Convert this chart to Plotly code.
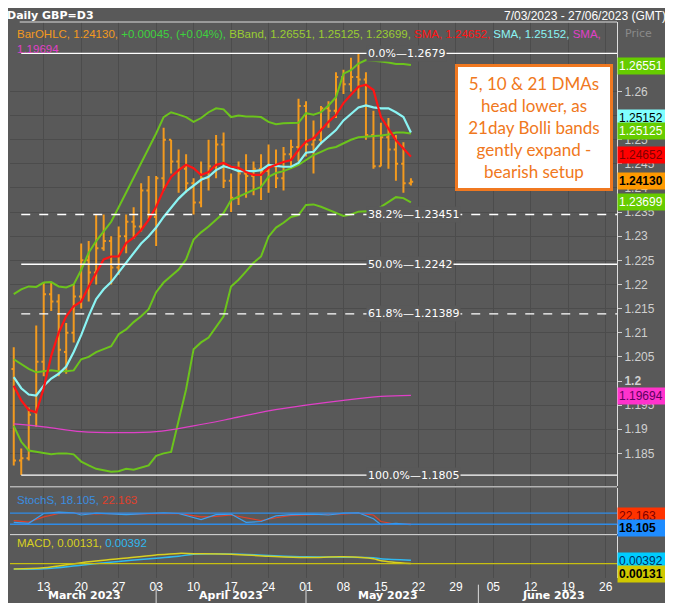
import plotly.graph_objects as go

dates = ["2023-03-07","2023-03-08","2023-03-09","2023-03-10",
 "2023-03-13","2023-03-14","2023-03-15","2023-03-16","2023-03-17",
 "2023-03-20","2023-03-21","2023-03-22","2023-03-23","2023-03-24",
 "2023-03-27","2023-03-28","2023-03-29","2023-03-30","2023-03-31",
 "2023-04-03","2023-04-04","2023-04-05","2023-04-06","2023-04-07",
 "2023-04-10","2023-04-11","2023-04-12","2023-04-13","2023-04-14",
 "2023-04-17","2023-04-18","2023-04-19","2023-04-20","2023-04-21",
 "2023-04-24","2023-04-25","2023-04-26","2023-04-27","2023-04-28",
 "2023-05-01","2023-05-02","2023-05-03","2023-05-04","2023-05-05",
 "2023-05-08","2023-05-09","2023-05-10","2023-05-11","2023-05-12",
 "2023-05-15","2023-05-16","2023-05-17","2023-05-18","2023-05-19"]

open_ = [1.2025,1.1835,1.1840,1.1935,1.2040,1.2180,1.2165,1.2060,1.2100,
 1.2175,1.2250,1.2225,1.2275,1.2290,1.2235,1.2300,1.2330,1.2320,1.2395,
 1.2340,1.2420,1.2500,1.2455,1.2440,1.2410,1.2370,1.2420,1.2445,1.2490,
 1.2415,1.2380,1.2430,1.2425,1.2440,1.2435,1.2445,1.2420,1.2470,1.2485,
 1.2570,1.2490,1.2500,1.2565,1.2560,1.2630,1.2615,1.2630,1.2625,1.2510,
 1.2445,1.2505,1.2480,1.2450,1.2410]
high = [1.2070,1.1860,1.1945,1.2115,1.2205,1.2205,1.2180,1.2120,1.2200,
 1.2285,1.2290,1.2345,1.2345,1.2300,1.2320,1.2345,1.2360,1.2410,1.2425,
 1.2425,1.2525,1.2500,1.2480,1.2470,1.2420,1.2455,1.2500,1.2510,1.2515,
 1.2430,1.2455,1.2470,1.2455,1.2470,1.2490,1.2480,1.2485,1.2500,1.2585,
 1.2580,1.2540,1.2570,1.2580,1.2640,1.2645,1.2670,1.2679,1.2640,1.2560,
 1.2535,1.2545,1.2510,1.2495,1.2420]
low = [1.1825,1.1805,1.1835,1.1905,1.2010,1.2145,1.2010,1.2015,1.2080,
 1.2150,1.2165,1.2200,1.2270,1.2200,1.2220,1.2265,1.2295,1.2310,1.2335,
 1.2280,1.2395,1.2430,1.2390,1.2390,1.2345,1.2360,1.2395,1.2420,1.2400,
 1.2350,1.2365,1.2380,1.2385,1.2375,1.2390,1.2400,1.2395,1.2440,1.2455,
 1.2465,1.2430,1.2490,1.2525,1.2545,1.2595,1.2600,1.2585,1.2500,1.2440,
 1.2445,1.2440,1.2415,1.2390,1.2405]
close = [1.1835,1.1840,1.1930,1.2040,1.2180,1.2165,1.2065,1.2100,1.2175,
 1.2250,1.2225,1.2275,1.2290,1.2235,1.2300,1.2330,1.2320,1.2395,1.2340,
 1.2420,1.2500,1.2455,1.2440,1.2410,1.2370,1.2420,1.2445,1.2490,1.2415,
 1.2380,1.2430,1.2425,1.2440,1.2435,1.2445,1.2420,1.2470,1.2485,1.2570,
 1.2490,1.2500,1.2565,1.2560,1.2630,1.2615,1.2630,1.2625,1.2510,1.2445,
 1.2505,1.2480,1.2450,1.2410,1.2413]

sma5 = [1.1990,1.1960,1.1940,1.1935,1.1985,1.2052,1.2100,1.2134,1.2155,
 1.2165,1.2196,1.2225,1.2252,1.2258,1.2258,1.2286,1.2297,1.2313,1.2334,
 1.2361,1.2396,1.2423,1.2437,1.2448,1.2441,1.2427,1.2433,1.2448,1.2452,
 1.2444,1.2442,1.2433,1.2427,1.2427,1.2442,1.2448,1.2454,1.2458,1.2479,
 1.2496,1.2503,1.2520,1.2537,1.2551,1.2576,1.2593,1.2610,1.2614,1.2603,
 1.2547,1.2524,1.2499,1.2482,1.2465]
sma10 = [1.2008,1.1985,1.1972,1.1970,1.1990,1.2005,1.2015,1.2030,1.2060,
 1.2095,1.2135,1.2170,1.2190,1.2205,1.2225,1.2245,1.2265,1.2285,1.2300,
 1.2318,1.2340,1.2360,1.2378,1.2393,1.2405,1.2417,1.2423,1.2437,1.2445,
 1.2441,1.2435,1.2435,1.2435,1.2437,1.2448,1.2446,1.2444,1.2444,1.2452,
 1.2473,1.2475,1.2493,1.2506,1.2520,1.2540,1.2554,1.2567,1.2571,1.2567,
 1.2565,1.2565,1.2557,1.2547,1.2515]
bb_upper = [1.2180,1.2190,1.2196,1.2195,1.2204,1.2205,1.2196,1.2194,1.2200,
 1.2230,1.2266,1.2290,1.2310,1.2330,1.2360,1.2390,1.2420,1.2450,1.2480,
 1.2513,1.2547,1.2557,1.2552,1.2547,1.2537,1.2545,1.2557,1.2565,1.2563,
 1.2547,1.2550,1.2548,1.2548,1.2547,1.2537,1.2532,1.2534,1.2534,1.2535,
 1.2555,1.2552,1.2557,1.2571,1.2588,1.2637,1.2644,1.2658,1.2665,1.2664,
 1.2662,1.2660,1.2657,1.2657,1.2655]
bb_mid = [1.2045,1.2035,1.2025,1.2018,1.2020,1.2022,1.2020,1.2020,1.2022,
 1.2045,1.2050,1.2060,1.2066,1.2072,1.2097,1.2107,1.2122,1.2134,1.2149,
 1.2184,1.2204,1.2217,1.2231,1.2252,1.2293,1.2308,1.2320,1.2334,1.2348,
 1.2375,1.2382,1.2390,1.2396,1.2402,1.2423,1.2431,1.2435,1.2441,1.2448,
 1.2458,1.2468,1.2475,1.2482,1.2485,1.2493,1.2500,1.2505,1.2506,1.2507,
 1.2509,1.2511,1.2515,1.2515,1.2513]
bb_lower = [1.1907,1.1874,1.1856,1.1853,1.1850,1.1848,1.1850,1.1850,1.1848,
 1.1833,1.1825,1.1818,1.1815,1.1812,1.1813,1.1818,1.1816,1.1820,1.1825,
 1.1845,1.1850,1.1853,1.1915,1.1983,1.2066,1.2080,1.2090,1.2113,1.2134,
 1.2196,1.2210,1.2227,1.2245,1.2258,1.2299,1.2318,1.2328,1.2340,1.2344,
 1.2365,1.2366,1.2361,1.2355,1.2348,1.2342,1.2345,1.2351,1.2352,1.2351,
 1.2361,1.2371,1.2381,1.2379,1.2370]

sma_long_dates = ["2023-03-07","2023-03-13","2023-03-20","2023-03-27","2023-04-03",
 "2023-04-10","2023-04-17","2023-04-24","2023-05-01","2023-05-08","2023-05-15","2023-05-19"]
sma_long = [1.1911,1.1905,1.1895,1.1893,1.1895,1.1907,1.1922,1.1938,1.1950,1.1960,1.1968,1.1970]

stoch_dates = ["2023-03-07","2023-03-09","2023-03-13","2023-03-15","2023-03-17","2023-03-20",
 "2023-03-22","2023-03-24","2023-03-28","2023-03-31","2023-04-04","2023-04-06","2023-04-11",
 "2023-04-13","2023-04-17","2023-04-19","2023-04-21","2023-04-25","2023-04-27","2023-05-02",
 "2023-05-04","2023-05-08","2023-05-10","2023-05-12","2023-05-15","2023-05-17","2023-05-19"]
stoch_k = [30,25,78,85,82,70,80,76,72,78,82,78,45,72,75,30,35,65,72,75,70,80,82,50,18,25,18]
stoch_d = [40,32,60,78,82,78,76,78,74,76,80,79,60,62,70,55,40,55,68,72,72,76,80,70,35,20,22]

macd_dates = ["2023-03-07","2023-03-13","2023-03-20","2023-03-27","2023-04-03","2023-04-06",
 "2023-04-10","2023-04-17","2023-04-24","2023-05-01","2023-05-08","2023-05-12","2023-05-15","2023-05-19"]
macd = [-0.0030,-0.0020,0.0020,0.0050,0.0080,0.0092,0.0090,0.0085,0.0070,0.0060,0.0065,0.0050,0.0035,0.00131]
signal = [-0.0030,-0.0028,0.0000,0.0030,0.0055,0.0070,0.0085,0.0088,0.0075,0.0065,0.0063,0.0058,0.0050,0.00392]

fib_levels = [1.2679, 1.23451, 1.2242, 1.21389, 1.1805]
fib_labels = ["0.0%", "38.2%", "50.0%", "61.8%", "100.0%"]
fib_values = ["1.2679", "1.23451", "1.2242", "1.21389", "1.1805"]
fib_dash = ["solid", "dash", "solid", "dash", "solid"]

price_ticks = [1.185,1.19,1.195,1.2,1.205,1.21,1.215,1.22,1.225,1.23,1.235,1.24,1.245,1.25,1.255,1.26]
week_ticks = ["2023-03-13","2023-03-20","2023-03-27","2023-04-03","2023-04-10","2023-04-17",
 "2023-04-24","2023-05-01","2023-05-08","2023-05-15","2023-05-22","2023-05-29","2023-06-05",
 "2023-06-12","2023-06-19","2023-06-26"]
week_text = ["13","20","27","03","10","17","24","01","08","15","22","29","05","12","19","26"]
months = ["March 2023","April 2023","May 2023","June 2023"]
month_pos = ["2023-03-20 12:00","2023-04-17","2023-05-16","2023-06-15"]
month_seps = ["2023-04-01","2023-05-01","2023-06-01"]

BG = "#595959"
GRID = "#4c4c4c"
ORANGE = "#f39a1e"
GREEN = "#6cc41c"
RED = "#ff1414"
CYAN = "#8af4f4"
MAG = "#e040c8"
FONT = "DejaVu Sans"
LFONT = "Liberation Sans"

fig = go.Figure()
fig.add_trace(go.Ohlc(x=dates, open=open_, high=high, low=low, close=close,
    increasing=dict(line=dict(color=ORANGE, width=2)),
    decreasing=dict(line=dict(color=ORANGE, width=2)), tickwidth=0.3,
    xaxis="x", yaxis="y"))
for ys, col, w in [(bb_upper, GREEN, 2), (bb_mid, GREEN, 2), (bb_lower, GREEN, 2),
                   (sma10, CYAN, 2.2), (sma5, RED, 2.2)]:
    fig.add_trace(go.Scatter(x=dates, y=ys, mode="lines", line=dict(color=col, width=w),
                             xaxis="x", yaxis="y"))
fig.add_trace(go.Scatter(x=sma_long_dates, y=sma_long, mode="lines", line=dict(color=MAG, width=1.2, shape="spline"),
                         xaxis="x", yaxis="y"))
fig.add_trace(go.Scatter(x=stoch_dates, y=stoch_d, mode="lines", line=dict(color="#e0402a", width=1.2),
                         xaxis="x2", yaxis="y2"))
fig.add_trace(go.Scatter(x=stoch_dates, y=stoch_k, mode="lines", line=dict(color="#3aa0f0", width=1.2),
                         xaxis="x2", yaxis="y2"))
fig.add_trace(go.Scatter(x=macd_dates, y=signal, mode="lines", line=dict(color="#30b8f0", width=1.5, shape="spline"),
                         xaxis="x3", yaxis="y3"))
fig.add_trace(go.Scatter(x=macd_dates, y=macd, mode="lines", line=dict(color="#d8d020", width=1.5, shape="spline"),
                         xaxis="x3", yaxis="y3"))

shapes = []
for lv, dsh in zip(fib_levels, fib_dash):
    shapes.append(dict(type="line", xref="x", yref="y", x0="2023-03-08", x1="2023-06-27 12:00",
                       y0=lv, y1=lv, line=dict(color="white", width=1.3, dash=dsh)))
for lv in [80, 20]:
    shapes.append(dict(type="line", xref="x2 domain", yref="y2", x0=0, x1=1, y0=lv, y1=lv,
                       line=dict(color="#2f8ce8", width=1.3)))
shapes.append(dict(type="line", xref="x3 domain", yref="y3", x0=0, x1=1, y0=0.00131, y1=0.00131,
                   line=dict(color="#c8c010", width=1.3)))
for y0 in [0.164, 0.078]:
    shapes.append(dict(type="line", xref="paper", yref="paper", x0=0, x1=1, y0=y0, y1=y0,
                       line=dict(color="#dddddd", width=1)))
shapes.append(dict(type="line", xref="paper", yref="paper", x0=0.016, x1=1, y0=1, y1=1,
                   line=dict(color="#dddddd", width=1)))
for s in month_seps:
    shapes.append(dict(type="line", xref="x3", yref="paper", x0=s, x1=s, y0=-0.045, y1=-0.012,
                       line=dict(color="#dddddd", width=1)))

ann = []
for lv, lab, val in zip(fib_levels, fib_labels, fib_values):
    ann.append(dict(xref="x", yref="y", x="2023-05-11", y=lv, xanchor="left", yanchor="middle",
                    text=f"{lab}\u2014{val}", showarrow=False, bgcolor=BG,
                    font=dict(family=FONT, size=11, color="white")))
ann.append(dict(xref="paper", yref="paper", x=0.863, y=0.81, xanchor="center", yanchor="middle",
    text="5, 10 & 21 DMAs<br>head lower, as<br>21day Bolli bands<br>gently expand -<br>bearish setup",
    showarrow=False, bgcolor="white", bordercolor="#f07820", borderwidth=3, borderpad=6,
    width=140, font=dict(family="Lato", size=17, color="#f07820")))
ann.append(dict(xref="paper", yref="paper", x=-0.008, y=1.011, xanchor="left", yanchor="middle",
    text="<b>Daily GBP=D3</b>", showarrow=False, font=dict(family=FONT, size=11, color="white")))
ann.append(dict(xref="paper", yref="paper", x=1.084, y=1.011, xanchor="right", yanchor="middle",
    text="7/03/2023 - 27/06/2023 (GMT)", showarrow=False, font=dict(family=LFONT, size=12, color="white")))
ann.append(dict(xref="paper", yref="paper", x=0.008, y=0.993, xanchor="left", yanchor="top", align="left",
    text=(f"<span style='color:{ORANGE}'>BarOHLC, 1.24130, </span>"
          "<span style='color:#3ed23e'>+0.00045, (+0.04%), </span>"
          "<span style='color:#9acd32'>BBand, 1.26551, 1.25125, 1.23699, </span>"
          f"<span style='color:{RED}'>SMA, 1.24652, </span>"
          f"<span style='color:{CYAN}'>SMA, 1.25152, </span>"
          f"<span style='color:{MAG}'>SMA,<br>1.19694</span>"),
    showarrow=False, font=dict(family=LFONT, size=11.5)))
ann.append(dict(xref="paper", yref="paper", x=1.01, y=0.98, xanchor="left", yanchor="middle",
    text="Price", showarrow=False, font=dict(family=FONT, size=11, color="#8a8a8a")))
for py, txt, bg, fc, bold in [(0.921, "1.26551", "#66cc00", "white", False),
                              (0.827, "1.25152", "#80ffff", "black", False),
                              (0.804, "1.25125", "#66cc00", "white", False),
                              (0.760, "1.24652", "#ff0000", "#800000", False),
                              (0.714, "1.24130", "#ff9900", "black", True),
                              (0.676, "1.23699", "#66cc00", "white", False),
                              (0.328, "1.19694", "#ff33cc", "#600060", False),
                              (0.1115, "22.163", "#ff3300", "#800000", False),
                              (0.090, "18.105", "#1e8cff", "black", True),
                              (0.0306, "0.00392", "#00ccff", "#003060", False),
                              (0.0072, "0.00131", "#d0c800", "black", True)]:
    ann.append(dict(xref="paper", yref="paper", x=1.0, y=py, xanchor="left", yanchor="middle",
        text=f"<b>{txt}</b>" if bold else txt, showarrow=False, bgcolor=bg, width=52, align="left",
        font=dict(family=LFONT, size=12, color=fc)))
ann.append(dict(xref="paper", yref="paper", x=0.008, y=0.141, xanchor="left", yanchor="middle",
    text="<span style='color:#3a8ee0'>StochS, 18.105, </span><span style='color:#e0402a'>22.163</span>",
    showarrow=False, font=dict(family=LFONT, size=11.5)))
ann.append(dict(xref="paper", yref="paper", x=0.008, y=0.063, xanchor="left", yanchor="middle",
    text="<span style='color:#d8d020'>MACD, 0.00131, </span><span style='color:#30b8f0'>0.00392</span>",
    showarrow=False, font=dict(family=LFONT, size=11.5)))
for m, pos in zip(months, month_pos):
    ann.append(dict(xref="x3", yref="paper", x=pos, y=-0.031, xanchor="center", yanchor="middle",
        text=f"<b>{m}</b>", showarrow=False, font=dict(family=FONT, size=11, color="white")))

xr = ["2023-03-06 12:00", "2023-06-27 12:00"]
xcommon = dict(type="date", range=xr, rangebreaks=[dict(bounds=["sat", "mon"])],
               tickvals=week_ticks, showgrid=True, gridcolor=GRID, gridwidth=1, zeroline=False,
               showline=False)
ptick = ["<b>1.2</b>" if abs(t - 1.2) < 1e-9 else f"{t:g}" for t in price_ticks]

fig.update_layout(
    width=673, height=603, margin=dict(l=2, r=64, t=14, b=33),
    paper_bgcolor=BG, plot_bgcolor=BG, showlegend=False,
    font=dict(family=FONT, color="#d8d8d8"),
    xaxis=dict(**xcommon, anchor="y", showticklabels=False, ticktext=week_text),
    xaxis2=dict(**xcommon, anchor="y2", matches="x", showticklabels=False, ticktext=week_text),
    xaxis3=dict(**xcommon, anchor="y3", matches="x", ticktext=week_text, ticks="",
                tickfont=dict(family=LFONT, size=12, color="white")),
    yaxis=dict(domain=[0.166, 1], range=[1.1783, 1.2744], side="right", tickvals=price_ticks,
               ticktext=ptick, ticks="outside", ticklen=4, tickcolor="#cfcfcf",
               tickfont=dict(family=LFONT, size=12, color="#d0d0d0"), showgrid=True, gridcolor=GRID,
               zeroline=False, showline=True, linecolor="#dddddd"),
    yaxis2=dict(domain=[0.08, 0.162], range=[-30, 216], side="right", showticklabels=False,
                showgrid=False, zeroline=False, showline=True, linecolor="#dddddd"),
    yaxis3=dict(domain=[0, 0.076], range=[-0.0099, 0.0229], side="right", showticklabels=False,
                showgrid=False, zeroline=False, showline=True, linecolor="#dddddd"),
    shapes=shapes, annotations=ann,
)
fig.update_xaxes(rangeslider_visible=False)
fig.write_html("out.html")
